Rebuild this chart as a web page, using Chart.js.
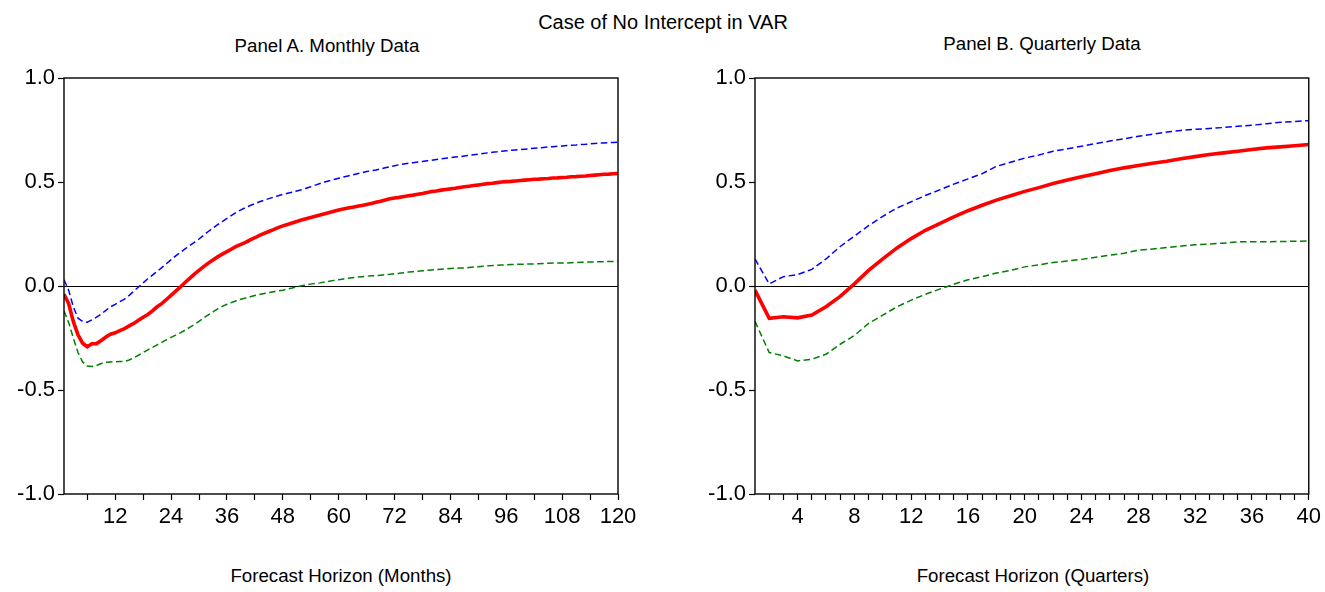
<!DOCTYPE html>
<html>
<head>
<meta charset="utf-8">
<script src="https://cdn.jsdelivr.net/npm/chart.js@4.4.0/dist/chart.umd.min.js"></script>
<style>
  html, body { margin: 0; padding: 0; background: #fff; }
  body { width: 1325px; height: 592px; position: relative; overflow: hidden; font-family: "Liberation Sans", Arial, sans-serif; color: #000; }
  canvas { position: absolute; top: 0; }
  .t { position: absolute; white-space: nowrap; text-align: center; line-height: 1; }
</style>
</head>
<body>
<div class="t" style="left:463px;width:400px;top:12px;font-size:20px;">Case of No Intercept in VAR</div>
<div class="t" style="left:127px;width:400px;top:37px;font-size:18.7px;">Panel A. Monthly Data</div>
<div class="t" style="left:842px;width:400px;top:35px;font-size:18.7px;">Panel B. Quarterly Data</div>
<div class="t" style="left:141px;width:400px;top:567px;font-size:18.7px;">Forecast Horizon (Months)</div>
<div class="t" style="left:833px;width:400px;top:567px;font-size:18.7px;">Forecast Horizon (Quarters)</div>
<canvas id="cA" width="662" height="592" style="left:0px"></canvas>
<canvas id="cB" width="663" height="592" style="left:662px"></canvas>
<script>
// ---------- Panel A: monthly horizon (1..120) ----------
const monthlyResponse = [
 -0.04,-0.085,-0.17,-0.235,-0.275,-0.292,-0.278,-0.277,-0.262,-0.245,
 -0.232,-0.225,-0.215,-0.205,-0.192,-0.18,-0.165,-0.15,-0.137,-0.12,
 -0.1,-0.085,-0.065,-0.045,-0.025,-0.005,0.017,0.037,0.057,0.075,
 0.093,0.11,0.125,0.14,0.153,0.165,0.178,0.19,0.2,0.21,
 0.222,0.232,0.243,0.253,0.262,0.271,0.281,0.289,0.296,0.303,
 0.31,0.317,0.323,0.329,0.335,0.341,0.347,0.353,0.359,0.365,
 0.37,0.375,0.379,0.383,0.387,0.392,0.397,0.403,0.408,0.414,
 0.419,0.423,0.426,0.43,0.434,0.437,0.441,0.445,0.45,0.454,
 0.457,0.461,0.464,0.467,0.47,0.474,0.477,0.48,0.483,0.486,
 0.489,0.492,0.494,0.497,0.5,0.502,0.503,0.505,0.507,0.509,
 0.511,0.513,0.514,0.516,0.517,0.519,0.52,0.522,0.523,0.525,
 0.526,0.528,0.529,0.531,0.533,0.535,0.537,0.538,0.54,0.541];
const monthlyUpper = [
 0.03,-0.02,-0.1,-0.155,-0.17,-0.174,-0.163,-0.15,-0.135,-0.117,
 -0.1,-0.088,-0.075,-0.063,-0.045,-0.025,-0.005,0.015,0.035,0.052,
 0.07,0.088,0.107,0.127,0.145,0.162,0.178,0.194,0.21,0.226,
 0.244,0.262,0.279,0.295,0.31,0.325,0.34,0.354,0.366,0.377,
 0.387,0.396,0.405,0.413,0.42,0.427,0.434,0.44,0.446,0.451,
 0.457,0.463,0.47,0.477,0.485,0.493,0.5,0.506,0.512,0.518,
 0.524,0.529,0.534,0.54,0.545,0.55,0.554,0.558,0.563,0.568,
 0.573,0.578,0.583,0.587,0.59,0.593,0.596,0.599,0.602,0.605,
 0.608,0.611,0.614,0.617,0.62,0.622,0.625,0.628,0.631,0.634,
 0.637,0.64,0.643,0.645,0.648,0.65,0.652,0.654,0.656,0.658,
 0.66,0.662,0.664,0.666,0.668,0.67,0.672,0.673,0.675,0.677,
 0.678,0.68,0.681,0.683,0.685,0.687,0.688,0.689,0.69,0.691];
const monthlyLower = [
 -0.12,-0.175,-0.25,-0.32,-0.365,-0.385,-0.387,-0.382,-0.373,-0.367,
 -0.365,-0.364,-0.363,-0.362,-0.356,-0.345,-0.333,-0.32,-0.307,-0.295,
 -0.283,-0.271,-0.259,-0.247,-0.236,-0.225,-0.212,-0.199,-0.186,-0.17,
 -0.154,-0.139,-0.124,-0.11,-0.098,-0.088,-0.079,-0.071,-0.064,-0.058,
 -0.052,-0.046,-0.041,-0.036,-0.032,-0.028,-0.024,-0.02,-0.015,-0.01,
 -0.004,0.001,0.005,0.009,0.012,0.015,0.019,0.023,0.027,0.03,
 0.034,0.037,0.04,0.043,0.045,0.047,0.049,0.05,0.052,0.054,
 0.056,0.059,0.061,0.064,0.067,0.069,0.071,0.073,0.075,0.077,
 0.079,0.081,0.082,0.084,0.085,0.086,0.087,0.089,0.091,0.093,
 0.095,0.097,0.098,0.1,0.101,0.102,0.103,0.104,0.105,0.105,
 0.106,0.106,0.107,0.108,0.109,0.11,0.11,0.111,0.111,0.112,
 0.113,0.114,0.115,0.115,0.116,0.116,0.117,0.118,0.118,0.119];

// ---------- Panel B: quarterly horizon (1..40) ----------
const quarterlyResponse = [
 -0.02,-0.155,-0.148,-0.153,-0.14,-0.1,-0.05,0.01,0.075,0.13,
 0.183,0.228,0.268,0.3,0.332,0.362,0.388,0.413,0.434,0.455,
 0.473,0.493,0.51,0.525,0.54,0.555,0.568,0.579,0.59,0.6,
 0.612,0.622,0.632,0.64,0.648,0.656,0.664,0.669,0.674,0.68];
const quarterlyUpper = [
 0.13,0.01,0.045,0.055,0.08,0.13,0.19,0.24,0.29,0.335,
 0.375,0.405,0.435,0.462,0.49,0.515,0.54,0.575,0.595,0.615,
 0.63,0.648,0.66,0.672,0.685,0.697,0.708,0.72,0.73,0.74,
 0.748,0.753,0.757,0.762,0.768,0.773,0.78,0.787,0.791,0.795];
const quarterlyLower = [
 -0.17,-0.32,-0.336,-0.36,-0.352,-0.328,-0.28,-0.238,-0.18,-0.14,
 -0.1,-0.068,-0.04,-0.015,0.008,0.03,0.045,0.062,0.075,0.092,
 0.102,0.113,0.12,0.128,0.138,0.148,0.158,0.172,0.178,0.185,
 0.192,0.198,0.202,0.206,0.212,0.213,0.213,0.214,0.215,0.216];

const yTicks = [-1.0, -0.5, 0.0, 0.5, 1.0];
const monthTicks = [6,12,18,24,30,36,42,48,54,60,66,72,78,84,90,96,102,108,114,120];
const quarterTicks = [2,3,4,5,6,7,8,9,10,11,12,13,14,15,16,17,18,19,20,21,22,23,24,25,26,27,28,29,30,31,32,33,34,35,36,37,38,39,40];

const FONT = '"Liberation Sans", Arial, sans-serif';

const framePlugin = {
  id: 'frame',
  afterDraw(chart) {
    const a = chart.chartArea, c = chart.ctx;
    c.save();
    c.strokeStyle = '#000';
    c.lineWidth = 1.4;
    c.strokeRect(a.left, a.top, a.right - a.left, a.bottom - a.top);
    c.restore();
  }
};

function toXY(vals) { return vals.map((v, i) => ({ x: i + 1, y: v })); }

function makeChart(id, resp, up, lo, xMax, xTicks, labelEvery, yWidth, padRight) {
  return new Chart(document.getElementById(id), {
    type: 'line',
    data: {
      datasets: [
        { data: toXY(resp), borderColor: '#ff0000', borderWidth: 3.6, pointRadius: 0, tension: 0 },
        { data: toXY(up), borderColor: '#0000ff', borderWidth: 1.5, borderDash: [6.5, 3.5], pointRadius: 0, tension: 0 },
        { data: toXY(lo), borderColor: '#007f00', borderWidth: 1.5, borderDash: [6.5, 3.5], pointRadius: 0, tension: 0 }
      ]
    },
    options: {
      responsive: false,
      animation: false,
      devicePixelRatio: 1,
      layout: { padding: { top: 78, right: padRight, bottom: 58, left: 0 } },
      plugins: { legend: { display: false }, tooltip: { enabled: false }, title: { display: false } },
      scales: {
        x: {
          type: 'linear', min: 1, max: xMax,
          afterBuildTicks: s => { s.ticks = xTicks.map(v => ({ value: v })); },
          afterFit: s => { s.height = 40; },
          border: { display: false },
          grid: { drawOnChartArea: false, drawTicks: true, tickLength: 6, tickColor: '#000', tickWidth: 1.2 },
          ticks: {
            autoSkip: false, maxRotation: 0, padding: 4,
            color: '#000', font: { family: FONT, size: 22 },
            callback: v => (v % labelEvery === 0 ? String(v) : '')
          }
        },
        y: {
          type: 'linear', min: -1, max: 1,
          afterBuildTicks: s => { s.ticks = yTicks.map(v => ({ value: v })); },
          afterFit: s => { s.width = yWidth; },
          border: { display: false },
          grid: {
            drawOnChartArea: true, drawTicks: true, tickLength: 6, tickWidth: 1.2,
            tickColor: '#000',
            color: c => (c.tick && c.tick.value === 0 ? '#000' : 'rgba(0,0,0,0)'),
            lineWidth: 1
          },
          ticks: {
            padding: 3, color: '#000', font: { family: FONT, size: 22 },
            callback: v => Number(v).toFixed(1)
          }
        }
      }
    },
    plugins: [framePlugin]
  });
}

makeChart('cA', monthlyResponse, monthlyUpper, monthlyLower, 120, monthTicks, 12, 64, 44);
makeChart('cB', quarterlyResponse, quarterlyUpper, quarterlyLower, 40, quarterTicks, 4, 93, 16);
</script>
</body>
</html>
